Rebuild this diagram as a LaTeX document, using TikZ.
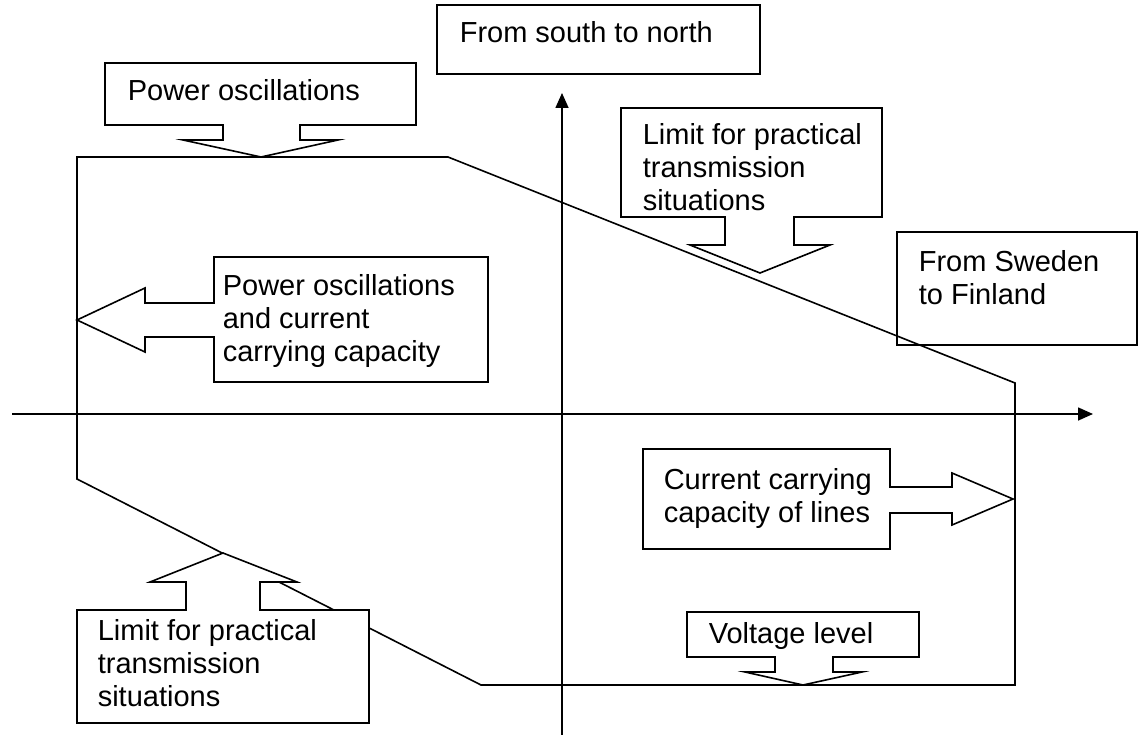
\documentclass[tikz,border=0pt]{standalone}
\usepackage{fontspec}
\setmainfont{Liberation Sans}
\usetikzlibrary{arrows.meta}
\begin{document}
\begin{tikzpicture}[x=1pt,y=-1pt,line width=1.6pt,line join=miter,
  callout/.style={draw=black,fill=white},
  plainbox/.style={draw=black},
  axis/.style={draw=black,-{Triangle[length=15pt,width=13pt]}},
  lbl/.style={anchor=base west,inner sep=0pt,font=\fontsize{29}{33}\selectfont}]
\useasboundingbox (0,0) rectangle (1142,735);
% outline of the operating region
\coordinate (o1) at (77,157);
\coordinate (o2) at (448,157);
\coordinate (o3) at (1015,383);
\coordinate (o4) at (1015,685);
\coordinate (o5) at (481,685);
\coordinate (o6) at (77,479);
\draw (o1) -- (o2) -- (o3) -- (o4) -- (o5) -- (o6) -- cycle;
% axes
\coordinate (xs) at (12,414);
\coordinate (xe) at (1093,414);
\coordinate (ys) at (562,735);
\coordinate (ye) at (562,93);
\draw[axis] (xs) -- (xe);
\draw[axis] (ys) -- (ye);
% callout: Power oscillations (down)
\draw[callout] (105,63) -- (416,63) -- (416,125) -- (300,125) -- (300,140) -- (338,140) -- (261,157) -- (183,140) -- (223,140) -- (223,125) -- (105,125) -- cycle;
% callout: Limit (top right, down)
\draw[callout] (621,108) -- (882,108) -- (882,217) -- (794,217) -- (794,245) -- (830,245) -- (760,273) -- (690,245) -- (725,245) -- (725,217) -- (621,217) -- cycle;
% callout: Power oscillations and current carrying capacity (left)
\draw[callout] (214,257) -- (488,257) -- (488,382) -- (214,382) -- (214,337) -- (145,337) -- (145,352) -- (77,320) -- (145,288) -- (145,303) -- (214,303) -- cycle;
% callout: Current carrying capacity of lines (right)
\draw[callout] (643,449) -- (890,449) -- (890,487) -- (952,487) -- (952,473) -- (1013,499) -- (952,525) -- (952,513) -- (890,513) -- (890,549) -- (643,549) -- cycle;
% callout: Limit (bottom left, up)
\draw[callout] (77,610) -- (186,610) -- (186,582) -- (150,582) -- (223,553) -- (297,582) -- (260,582) -- (260,610) -- (369,610) -- (369,723) -- (77,723) -- cycle;
% callout: Voltage level (down)
\draw[callout] (687,612) -- (919,612) -- (919,657) -- (833,657) -- (833,672) -- (862,672) -- (803,685) -- (745,672) -- (775,672) -- (775,657) -- (687,657) -- cycle;
% plain boxes
\draw[plainbox] (437,5) rectangle (760,74);
\draw[plainbox] (897,232) rectangle (1137,345);
% texts
\node[lbl] (tS) at (459,43) {From south to north};
\node[lbl] (tP) at (127,101) {Power oscillations};
\node[lbl] (tL1) at (642,145) {\vtop{\hbox{Limit for practical}\hbox{transmission}\hbox{situations}}};
\node[lbl] (tSF) at (918,271) {\vtop{\hbox{From Sweden}\hbox{to Finland}}};
\node[lbl] (tPC) at (222,295) {\vtop{\hbox{Power oscillations}\hbox{and current}\hbox{carrying capacity}}};
\node[lbl] (tC) at (663,489) {\vtop{\hbox{Current carrying}\hbox{capacity of lines}}};
\node[lbl] (tL2) at (97,640) {\vtop{\hbox{Limit for practical}\hbox{transmission}\hbox{situations}}};
\node[lbl] (tV) at (708,643) {Voltage level};
\end{tikzpicture}
\end{document}
